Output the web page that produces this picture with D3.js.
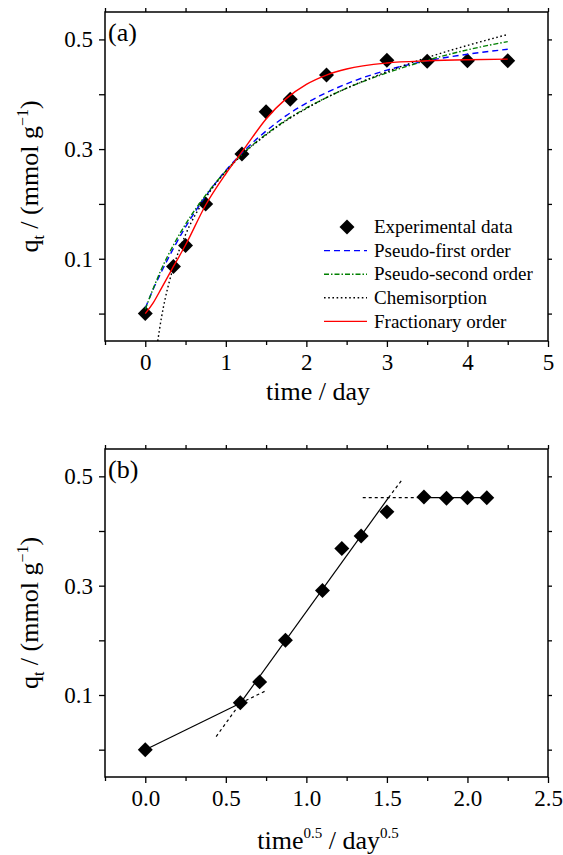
<!DOCTYPE html>
<html>
<head>
<meta charset="utf-8">
<script src="https://cdn.jsdelivr.net/npm/d3@7"></script>
<style>
  body { margin: 0; background: #fff; }
  svg text { font-family: "Liberation Serif", "Times New Roman", serif !important; fill: #000; }
</style>
</head>
<body>
<div id="chart"></div>
<script>
// experimental uptake (panel a)
const timeDay = [0, 0.35, 0.5, 0.75, 1.2, 1.5, 1.8, 2.25, 3, 3.5, 4, 4.5];
const qExp = [0, 0.086, 0.124, 0.2, 0.291, 0.368, 0.391, 0.435, 0.462, 0.46, 0.461, 0.461];
// same points against time^0.5 (panel b)
const sqrtTime = [0, 0.59, 0.71, 0.87, 1.10, 1.22, 1.34, 1.50, 1.73, 1.87, 2.00, 2.12];

// model curves
const fitT = [0, 0.1, 0.2, 0.35, 0.5, 0.75, 1.0, 1.25, 1.5, 1.75, 2.0, 2.25, 2.5, 3.0, 3.5, 4.0, 4.5];
const pseudoFirst = [0.010, 0.045, 0.076, 0.119, 0.158, 0.214, 0.261, 0.300, 0.333, 0.361, 0.384, 0.403, 0.419, 0.444, 0.461, 0.473, 0.482];
const pseudoSecond = [0.008, 0.046, 0.081, 0.125, 0.163, 0.216, 0.260, 0.297, 0.327, 0.353, 0.375, 0.394, 0.411, 0.439, 0.462, 0.481, 0.496];
const fractionary = [0.000, 0.020, 0.046, 0.086, 0.125, 0.198, 0.255, 0.305, 0.355, 0.392, 0.418, 0.435, 0.446, 0.457, 0.461, 0.463, 0.464];
const chemT = [0.155, 0.2, 0.25, 0.3, 0.35, 0.5, 0.75, 1.0, 1.25, 1.5, 1.75, 2.0, 2.25, 2.5, 3.0, 3.5, 4.0, 4.5];
const chemisorption = [-0.050, -0.008, 0.029, 0.059, 0.085, 0.144, 0.211, 0.259, 0.296, 0.326, 0.352, 0.374, 0.394, 0.411, 0.441, 0.467, 0.489, 0.509];

// intraparticle diffusion lines (panel b)
const diffSolid = [
  [[0, 0], [0.59, 0.085]],
  [[0.59, 0.085], [1.51, 0.461]],
  [[1.73, 0.461], [2.12, 0.461]]
];
const diffDashed = [
  [[0.59, 0.085], [0.75, 0.108]],
  [[0.44, 0.024], [0.59, 0.085]],
  [[1.51, 0.461], [1.60, 0.496]],
  [[1.35, 0.461], [1.73, 0.461]]
];

const yLabelTicks = [0.1, 0.3, 0.5];
const yPlainTicks = [0, 0.2, 0.4];

const width = 563, height = 855;
const left = 105, right = 548;
const serif = '"Liberation Serif", "Times New Roman", serif';

const svg = d3.select("#chart").append("svg")
  .attr("width", width)
  .attr("height", height)
  .attr("font-family", serif);

const diamond = d3.symbol().type(d3.symbolSquare).size(112);

function panel(top, bottom, xDomain, xMajor, xMinor, xFmt, tag, clipId) {
  const x = d3.scaleLinear().domain(xDomain).range([left, right]);
  const y = d3.scaleLinear().domain([-0.05, 0.55]).range([bottom, top]);

  svg.append("clipPath").attr("id", clipId)
    .append("rect")
    .attr("x", left).attr("y", top)
    .attr("width", right - left).attr("height", bottom - top);

  // bottom axis
  const bx = svg.append("g").attr("transform", "translate(0," + bottom + ")");
  bx.call(d3.axisBottom(x).tickValues(xMajor).tickFormat(xFmt).tickSize(6).tickPadding(7).tickSizeOuter(0));
  bx.append("g").call(d3.axisBottom(x).tickValues(xMinor).tickFormat("").tickSize(4).tickSizeOuter(0));
  // top mirror ticks
  const tx = svg.append("g").attr("transform", "translate(0," + top + ")");
  tx.call(d3.axisTop(x).tickValues(xMajor.concat(xMinor)).tickFormat("").tickSize(4).tickSizeOuter(0));

  // left axis
  const ly = svg.append("g").attr("transform", "translate(" + left + ",0)");
  ly.call(d3.axisLeft(y).tickValues(yLabelTicks).tickFormat(d3.format(".1f")).tickSize(6).tickPadding(6).tickSizeOuter(0));
  ly.append("g").call(d3.axisLeft(y).tickValues(yPlainTicks).tickFormat("").tickSize(6).tickSizeOuter(0));
  // right mirror ticks
  const ry = svg.append("g").attr("transform", "translate(" + right + ",0)");
  ry.call(d3.axisRight(y).tickValues(yLabelTicks.concat(yPlainTicks)).tickFormat("").tickSize(4).tickSizeOuter(0));

  [bx, tx, ly, ry].forEach(g => g.attr("font-family", serif));
  svg.selectAll(".domain").remove();
  svg.selectAll(".tick line").attr("stroke", "#000").attr("stroke-width", 1.3);
  svg.selectAll(".tick text")
    .style("font-family", serif)
    .style("font-size", "23px")
    .attr("fill", "#000");

  // frame
  svg.append("rect")
    .attr("x", left).attr("y", top)
    .attr("width", right - left).attr("height", bottom - top)
    .attr("fill", "none").attr("stroke", "#000").attr("stroke-width", 1.5);

  svg.append("text")
    .attr("x", left + 3).attr("y", y(0.5) + 2)
    .style("font-size", "26px")
    .text(tag);

  // y title
  const yt = svg.append("text")
    .attr("transform", "translate(38," + ((top + bottom) / 2) + ") rotate(-90)")
    .attr("text-anchor", "middle")
    .style("font-size", "26px");
  yt.append("tspan").text("q");
  yt.append("tspan").attr("dy", 6).style("font-size", "16px").text("t");
  yt.append("tspan").attr("dy", -6).text(" / (mmol g");
  yt.append("tspan").attr("dy", -10).style("font-size", "16px").text("\u22121");
  yt.append("tspan").attr("dy", 10).text(")");

  return { x: x, y: y };
}

// ---------- panel (a) ----------
const a = panel(12, 341, [-0.5, 5], [0, 1, 2, 3, 4, 5], [-0.5, 0.5, 1.5, 2.5, 3.5, 4.5], d3.format("d"), "(a)", "clipA");

svg.append("text")
  .attr("x", 318).attr("y", 400)
  .attr("text-anchor", "middle")
  .style("font-size", "26px")
  .text("time / day");

const gA = svg.append("g");
gA.selectAll("path.pt")
  .data(timeDay)
  .enter().append("path")
  .attr("class", "pt")
  .attr("d", diamond)
  .attr("transform", (d, i) => "translate(" + a.x(d) + "," + a.y(qExp[i]) + ") rotate(45)")
  .attr("fill", "#000");

const series = [
  { name: "Pseudo-first order", t: fitT, q: pseudoFirst, color: "#0000ff", dash: "6,4" },
  { name: "Pseudo-second order", t: fitT, q: pseudoSecond, color: "#008000", dash: "5,2,1.5,2" },
  { name: "Chemisorption", t: chemT, q: chemisorption, color: "#000", dash: "1.6,2.6" },
  { name: "Fractionary order", t: fitT, q: fractionary, color: "#ff0000", dash: null }
];

const lineA = d3.line()
  .x(d => a.x(d[0]))
  .y(d => a.y(d[1]))
  .curve(d3.curveMonotoneX);

const curves = svg.append("g").attr("clip-path", "url(#clipA)");
series.forEach(s => {
  curves.append("path")
    .datum(s.t.map((t, i) => [t, s.q[i]]))
    .attr("d", lineA)
    .attr("fill", "none")
    .attr("stroke", s.color)
    .attr("stroke-width", 1.4)
    .attr("stroke-dasharray", s.dash);
});

// legend
const legX = 324, legY = 227, legStep = 23.6;
const leg = svg.append("g");
leg.append("path")
  .attr("d", diamond)
  .attr("transform", "translate(347," + legY + ") rotate(45)")
  .attr("fill", "#000");
leg.append("text")
  .attr("x", 374).attr("y", legY).attr("dy", "0.33em")
  .style("font-size", "19px")
  .text("Experimental data");
series.forEach((s, i) => {
  const yy = legY + legStep * (i + 1);
  leg.append("line")
    .attr("x1", legX).attr("x2", legX + 43)
    .attr("y1", yy).attr("y2", yy)
    .attr("stroke", s.color)
    .attr("stroke-width", 1.4)
    .attr("stroke-dasharray", s.dash);
  leg.append("text")
    .attr("x", 374).attr("y", yy).attr("dy", "0.33em")
    .style("font-size", "19px")
    .text(s.name);
});

// ---------- panel (b) ----------
const b = panel(449, 777, [-0.25, 2.5], [0, 0.5, 1, 1.5, 2, 2.5], [-0.25, 0.25, 0.75, 1.25, 1.75, 2.25], d3.format(".1f"), "(b)", "clipB");

const xtb = svg.append("text")
  .attr("x", 328).attr("y", 849)
  .attr("text-anchor", "middle")
  .style("font-size", "26px");
xtb.append("tspan").text("time");
xtb.append("tspan").attr("dy", -11).style("font-size", "15px").text("0.5");
xtb.append("tspan").attr("dy", 11).text(" / day");
xtb.append("tspan").attr("dy", -11).style("font-size", "15px").text("0.5");

const lineB = d3.line().x(d => b.x(d[0])).y(d => b.y(d[1]));
const gB = svg.append("g").attr("clip-path", "url(#clipB)");

gB.selectAll("path.solid")
  .data(diffSolid)
  .enter().append("path")
  .attr("class", "solid")
  .attr("d", lineB)
  .attr("fill", "none")
  .attr("stroke", "#000")
  .attr("stroke-width", 1.2);

gB.selectAll("path.dash")
  .data(diffDashed)
  .enter().append("path")
  .attr("class", "dash")
  .attr("d", lineB)
  .attr("fill", "none")
  .attr("stroke", "#000")
  .attr("stroke-width", 1.2)
  .attr("stroke-dasharray", "3,3");

gB.selectAll("path.pt")
  .data(sqrtTime)
  .enter().append("path")
  .attr("class", "pt")
  .attr("d", diamond)
  .attr("transform", (d, i) => "translate(" + b.x(d) + "," + b.y(qExp[i]) + ") rotate(45)")
  .attr("fill", "#000");
</script>
</body>
</html>
